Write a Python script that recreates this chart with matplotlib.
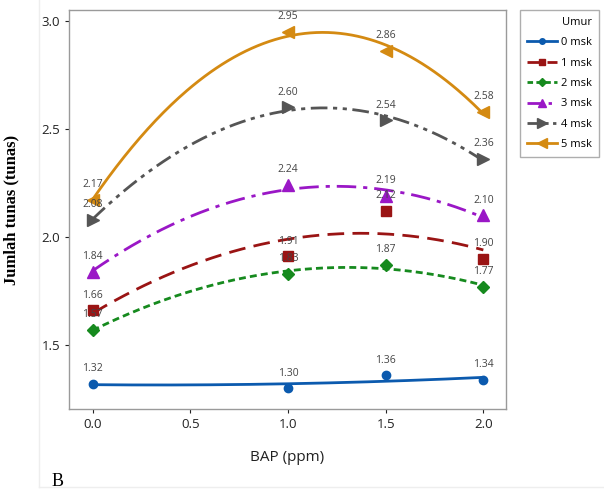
import numpy as np
import matplotlib
matplotlib.use("Agg")
import matplotlib.pyplot as plt
from matplotlib.lines import Line2D

bap = [0.0, 1.0, 1.5, 2.0]
umur = ["0 msk", "1 msk", "2 msk", "3 msk", "4 msk", "5 msk"]
vals_0 = [1.32, 1.30, 1.36, 1.34]
vals_1 = [1.66, 1.91, 2.12, 1.90]
vals_2 = [1.57, 1.83, 1.87, 1.77]
vals_3 = [1.84, 2.24, 2.19, 2.10]
vals_4 = [2.08, 2.60, 2.54, 2.36]
vals_5 = [2.17, 2.95, 2.86, 2.58]
series = [vals_0, vals_1, vals_2, vals_3, vals_4, vals_5]

colors = ["#0B5AAE", "#9A1414", "#168A1E", "#9A17C6", "#555555", "#D48A12"]
markers = ["o", "s", "D", "^", ">", "<"]
msizes = [6, 7, 6, 8, 9, 9]
dashes = [None, (6, 3), (2.5, 1.5), (7, 2.5, 1.5, 2.5), (6, 2, 1.5, 2, 1.5, 2), None]

plt.rcParams['font.family'] = ['Open Sans', 'DejaVu Sans']

fig = plt.figure(figsize=(6.04, 4.96), dpi=100)
ax = fig.add_axes([69 / 604, 1 - 409 / 496, (506 - 69) / 604, (409 - 10) / 496])

xs = np.linspace(0, 2, 200)
handles = []
for vals, c, m, ms, d, name in zip(series, colors, markers, msizes, dashes, umur):
    coef = np.polyfit(bap, vals, 2)
    line, = ax.plot(xs, np.polyval(coef, xs), color=c, lw=2)
    if d is not None:
        line.set_dashes(d)
    ax.plot(bap, vals, linestyle="none", marker=m, color=c, markersize=ms)
    for x, v in zip(bap, vals):
        ax.annotate(f"{v:.2f}", (x, v), xytext=(0, 7), textcoords="offset points",
                    ha="center", va="bottom", fontsize=7.5, color="#444444")
    h = Line2D([], [], color=c, lw=2, marker=m, markersize=ms - 2)
    if d is not None:
        h.set_dashes((np.array(d) * 0.8).tolist())
    handles.append(h)

ax.set_xlim(-0.121, 2.116)
ax.set_ylim(1.204, 3.05)
ax.set_xticks([0.0, 0.5, 1.0, 1.5, 2.0])
ax.set_xticklabels(["0.0", "0.5", "1.0", "1.5", "2.0"])
ax.set_yticks([1.5, 2.0, 2.5, 3.0])
ax.set_yticklabels(["1.5", "2.0", "2.5", "3.0"])
ax.tick_params(labelsize=9.5, colors="#222222", length=3, width=0.8)
for s in ax.spines.values():
    s.set_color("#9A9A9A")
    s.set_linewidth(1)

ax.set_xlabel("BAP (ppm)", fontsize=11, color="#222222", labelpad=14)
ax.set_ylabel("Jumlah tunas (tunas)", fontsize=12, fontweight="bold",
              family=["Liberation Serif", "DejaVu Serif"], labelpad=16)

leg = fig.legend(handles, umur, loc="upper left",
                 bbox_to_anchor=(520 / 604, 1 - 10 / 496), fontsize=8,
                 title="Umur", title_fontsize=8, alignment="right",
                 frameon=True, fancybox=False, handlelength=2.7,
                 handletextpad=0.4, labelspacing=0.85, borderpad=0.6,
                 borderaxespad=0)
leg.get_frame().set_edgecolor("#9A9A9A")
leg.get_frame().set_linewidth(1)

fig.add_artist(Line2D([39 / 604, 39 / 604], [1 - 487 / 496, 1.0], color="#EEEEEE", lw=1))
fig.add_artist(Line2D([39 / 604, 1.0], [1 - 487 / 496, 1 - 487 / 496], color="#EEEEEE", lw=1))
fig.text(52 / 604, 1 - 486 / 496, "B", fontsize=13,
         family=["Liberation Serif", "DejaVu Serif"], va="baseline")

fig.savefig("out.png", dpi=100)
